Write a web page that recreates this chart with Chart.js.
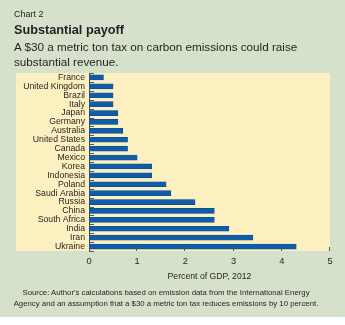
<!DOCTYPE html>
<html>
<head>
<meta charset="utf-8">
<script src="https://cdn.jsdelivr.net/npm/chart.js@4"></script>
<style>
  body { margin: 0; background: #fff; font-family: "Liberation Sans", Arial, sans-serif; color: #231f20; }
  #panel { position: relative; width: 345px; height: 325px; }
  #bg { position: absolute; left: 0; top: 0; width: 345px; height: 317px; background: #d6e1cb; }
  #chart { position: absolute; left: 0; top: 0; }
  .txt { position: absolute; left: 14px; white-space: nowrap; }
  #kicker { top: 8.5px; font-size: 9px; line-height: 10px; }
  #title { top: 22.7px; font-size: 12.7px; line-height: 15px; font-weight: bold; }
  #subtitle { top: 38.5px; font-size: 11.7px; line-height: 15px; }
  #source { top: 287.3px; left: 0; width: 332px; text-align: center; font-size: 7.8px; line-height: 11px; }
</style>
</head>
<body>
<div id="panel">
  <div id="bg"></div>
  <canvas id="chart" width="345" height="325"></canvas>
  <div class="txt" id="kicker">Chart 2</div>
  <div class="txt" id="title">Substantial payoff</div>
  <div class="txt" id="subtitle">A $30 a metric ton tax on carbon emissions could raise<br>substantial revenue.</div>
  <div class="txt" id="source">Source: Author's calculations based on emission data from the International Energy<br>Agency and an assumption that a $30 a metric ton tax reduces emissions by 10 percent.</div>
</div>
<script>
const countries = ["France", "United Kingdom", "Brazil", "Italy", "Japan", "Germany", "Australia",
  "United States", "Canada", "Mexico", "Korea", "Indonesia", "Poland", "Saudi Arabia", "Russia",
  "China", "South Africa", "India", "Iran", "Ukraine"];
const revenue = [0.3, 0.5, 0.5, 0.5, 0.6, 0.6, 0.7, 0.8, 0.8, 1.0, 1.3, 1.3, 1.6, 1.7, 2.2,
  2.6, 2.6, 2.9, 3.4, 4.3];
const xTicks = [0, 1, 2, 3, 4, 5];

// yellow plot box, reaching left behind the country names
const panelBox = {
  id: "panelBox",
  beforeDraw(chart) {
    const { ctx, chartArea } = chart;
    ctx.save();
    ctx.fillStyle = "#fcf0c1";
    ctx.fillRect(16, chartArea.top, chartArea.right - 16, chartArea.bottom - chartArea.top);
    ctx.restore();
  }
};

// tick marks point inward on both axes
const innerTicks = {
  id: "innerTicks",
  afterDraw(chart) {
    const { ctx, chartArea } = chart;
    const x = chart.scales.x, y = chart.scales.y;
    ctx.save();
    ctx.strokeStyle = "#555";
    ctx.lineWidth = 1;
    ctx.beginPath();
    xTicks.slice(1).forEach(v => {
      const px = Math.round(x.getPixelForValue(v)) - 0.5;
      ctx.moveTo(px, chartArea.bottom);
      ctx.lineTo(px, chartArea.bottom - 4);
    });
    const n = countries.length;
    for (let i = 0; i <= n; i++) {
      let py;
      if (i === 0) py = chartArea.top;
      else if (i === n) py = chartArea.bottom;
      else py = (y.getPixelForValue(i - 1) + y.getPixelForValue(i)) / 2;
      py = Math.round(py) + 0.5;
      ctx.moveTo(chartArea.left, py);
      ctx.lineTo(chartArea.left + 5, py);
    }
    ctx.stroke();
    ctx.restore();
  }
};

new Chart(document.getElementById("chart"), {
  type: "bar",
  data: {
    labels: countries,
    datasets: [{
      data: revenue,
      backgroundColor: "#105ca8",
      borderColor: "#0b4d8f",
      borderWidth: 0.6,
      barThickness: 5
    }]
  },
  options: {
    indexAxis: "y",
    responsive: false,
    animation: false,
    layout: { padding: { top: 73, right: 15, left: 0, bottom: 0 } },
    plugins: { legend: { display: false }, tooltip: { enabled: false } },
    scales: {
      x: {
        min: 0,
        max: 5,
        afterFit(scale) { scale.height = 74; },
        afterBuildTicks(scale) { scale.ticks = xTicks.map(v => ({ value: v })); },
        grid: { display: false, drawTicks: false },
        border: { display: false },
        ticks: { padding: 5, color: "#231f20", font: { family: "Liberation Sans", size: 9.3 } },
        title: {
          display: true,
          text: "Percent of GDP, 2012",
          color: "#231f20",
          font: { family: "Liberation Sans", size: 8.7 },
          padding: { top: 0, bottom: 43 }
        }
      },
      y: {
        afterFit(scale) { scale.width = 89; },
        grid: { display: false, drawTicks: false },
        border: { display: true, color: "#444", width: 1 },
        ticks: { autoSkip: false, padding: 4, color: "#231f20", font: { family: "Liberation Sans", size: 8.7 } }
      }
    }
  },
  plugins: [panelBox, innerTicks]
});
</script>
</body>
</html>
